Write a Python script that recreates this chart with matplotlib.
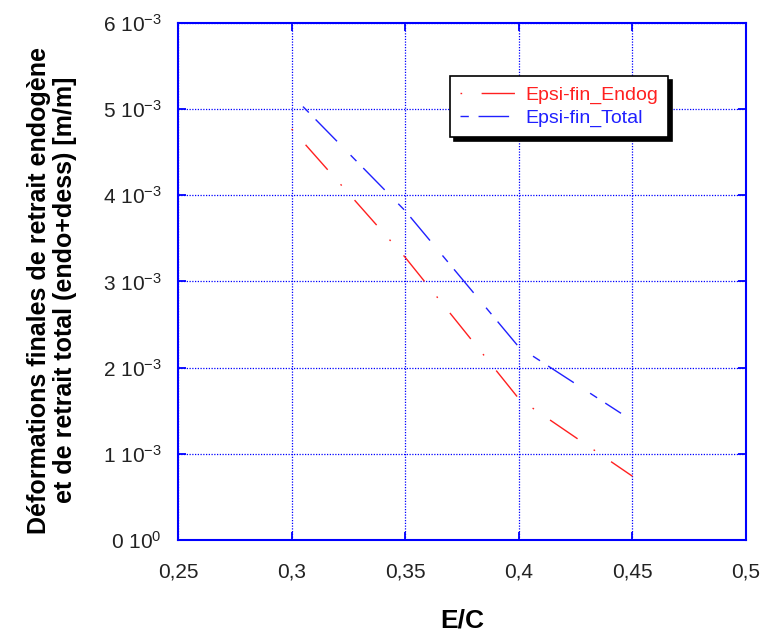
import numpy as np
import matplotlib.pyplot as plt
from matplotlib.ticker import FixedLocator, FuncFormatter

plt.rcParams['font.family'] = ['Liberation Sans', 'DejaVu Sans']
plt.rcParams['mathtext.fontset'] = 'custom'
plt.rcParams['mathtext.rm'] = 'Liberation Sans'
plt.rcParams['mathtext.it'] = 'Liberation Sans'

# data
ec_endog = [0.30, 0.35, 0.40, 0.45]
eps_endog = [4.77e-3, 3.28e-3, 1.64e-3, 0.74e-3]
ec_total = [0.305, 0.35, 0.40, 0.445]
eps_total = [5.03e-3, 3.82e-3, 2.24e-3, 1.47e-3]

xticks = [0.25, 0.3, 0.35, 0.4, 0.45, 0.5]
yticks = [0, 1e-3, 2e-3, 3e-3, 4e-3, 5e-3, 6e-3]

fig = plt.figure(figsize=(7.62, 6.37), dpi=100)
ax = fig.add_axes([0.2336, 0.1523, 0.7454, 0.8116])

ax.plot(ec_endog, eps_endog, color='#ff2020', lw=1.0, dashes=(1.2, 14, 24, 14),
        label='Epsi-fin_Endog')
ax.plot(ec_total, eps_total, color='#2020ff', lw=1.0, dashes=(6, 7, 22, 14),
        label='Epsi-fin_Total')

ax.set_xlim(0.25, 0.5)
ax.set_ylim(0, 6e-3)
ax.xaxis.set_major_locator(FixedLocator(xticks))
ax.yaxis.set_major_locator(FixedLocator(yticks))


def xfmt(v, pos):
    return ('%g' % round(v, 3)).replace('.', ',')


def yfmt(v, pos):
    if abs(v) < 1e-12:
        return r'0 10$^{0}$'
    return r'%d 10$^{-3}$' % round(v * 1000)


ax.xaxis.set_major_formatter(FuncFormatter(xfmt))
ax.yaxis.set_major_formatter(FuncFormatter(yfmt))

ax.grid(True, color='#0000ff', linestyle=(0, (1, 1.2)), lw=0.9)
ax.tick_params(direction='in', length=6, width=1.3, color='#0000ff',
               top=True, right=True, labelsize=15, labelcolor='#222222', pad=12)
ax.tick_params(axis='x', pad=16)
for s in ax.spines.values():
    s.set_color('#0000ff')
    s.set_linewidth(1.5)

ax.set_xlabel('E/C', fontsize=19, fontweight='bold', labelpad=20)
ax.set_ylabel('Déformations finales de retrait endogène\net de retrait total (endo+dess) [m/m]',
              fontsize=18, fontweight='bold', linespacing=1.1)
ax.yaxis.set_label_coords(-0.178, 0.483)

leg = ax.legend(loc='upper left', bbox_to_anchor=(0.479, 0.897), borderaxespad=0,
                fancybox=False, framealpha=1, edgecolor='black', fontsize=14,
                labelcolor='linecolor', handlelength=2.9, borderpad=0.5,
                labelspacing=0.3, handletextpad=0.45,
                shadow={'color': 'black', 'alpha': 1, 'ox': 3, 'oy': -3})
leg.get_frame().set_linewidth(1.2)

fig.savefig('out.png', dpi=100)
